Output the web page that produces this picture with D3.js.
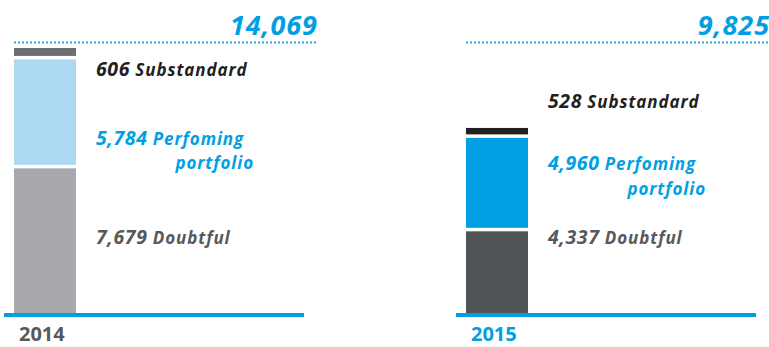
<!DOCTYPE html>
<html>
<head>
<meta charset="utf-8">
<script src="https://cdn.jsdelivr.net/npm/d3@7"></script>
<style>
  html, body { margin: 0; padding: 0; background: #ffffff; }
  svg { display: block; font-family: "Open Sans", "Noto Sans", sans-serif; }
</style>
</head>
<body>
<svg id="chart" width="769" height="347"></svg>
<script>
// Loan portfolio breakdown by year
const years = ["2014", "2015"];
const totals = [14069, 9825];
const doubtful = [7679, 4337];
const performing = [5784, 4960];
const substandard = [606, 528];
const seriesKeys = ["doubtful", "performing", "substandard"];
const seriesNames = ["Doubtful", "Perfoming portfolio", "Substandard"];

// Per-year colour sets (bars and label text)
const barColors = {
  "2014": { doubtful: "#a7a9ac", performing: "#acd8f2", substandard: "#6d6e71" },
  "2015": { doubtful: "#515457", performing: "#009fe3", substandard: "#231f20" }
};
const textColors = { doubtful: "#58595b", performing: "#009fe3", substandard: "#231f20" };
const yearColors = { "2014": "#58595b", "2015": "#009fe3" };
const blue = "#009fe3";

// Label baselines for each panel
const labelY = {
  "2014": { substandard: 75.5, performing: 144.5, portfolio: 168.5, doubtful: 244 },
  "2015": { substandard: 108, performing: 170, portfolio: 195, doubtful: 244 }
};

const rows = years.map((yr, i) => ({
  year: yr, total: totals[i],
  doubtful: doubtful[i], performing: performing[i], substandard: substandard[i]
}));

const svg = d3.select("#chart");
const baseY = 313;
const barW = 62;
const gap = 3.5;

const x = d3.scaleBand().domain(years).range([14, 14 + 452 * 2]).paddingInner(0).paddingOuter(0);
const y = d3.scaleLinear().domain([0, d3.max(totals)]).range([baseY, 48]);

const stacked = d3.stack().keys(seriesKeys)(rows);

// Stacked segments, separated by thin white gaps
stacked.forEach((layer, li) => {
  svg.append("g").selectAll("rect")
    .data(layer)
    .join("rect")
    .attr("x", d => x(d.data.year))
    .attr("y", d => y(d[1]))
    .attr("width", barW)
    .attr("height", d => Math.max(0, y(d[0]) - y(d[1]) - (li > 0 ? gap : 0)))
    .attr("fill", d => barColors[d.data.year][layer.key]);
});

const numFmt = d3.format(",");

rows.forEach(r => {
  const x0 = x(r.year);
  const g = svg.append("g");

  // Baseline
  g.append("rect")
    .attr("x", x0 - 10).attr("y", baseY)
    .attr("width", 300).attr("height", 4)
    .attr("fill", blue);

  // Dotted rule under the total
  g.append("line")
    .attr("x1", x0).attr("x2", x0 + 304)
    .attr("y1", 42.5).attr("y2", 42.5)
    .attr("stroke", "#2aa8e0")
    .attr("stroke-width", 2)
    .attr("stroke-dasharray", "2,2");

  // Total
  g.append("text")
    .attr("x", x0 + 304).attr("y", 34.5)
    .attr("text-anchor", "end")
    .attr("font-size", 27).attr("font-weight", 700).attr("font-style", "italic")
    .attr("letter-spacing", 1)
    .attr("fill", blue)
    .text(numFmt(r.total));

  // Year
  g.append("text")
    .attr("x", x0 + 5).attr("y", 341)
    .attr("font-size", 20).attr("font-weight", 700)
    .attr("fill", yearColors[r.year])
    .text(r.year);

  // Segment labels
  const ly = labelY[r.year];
  const addLabel = (key, yy, word) => {
    const t = g.append("text")
      .attr("x", x0 + 82).attr("y", yy)
      .attr("font-weight", 700).attr("font-style", "italic")
      .attr("fill", textColors[key]);
    t.append("tspan").attr("font-size", 19.5).attr("letter-spacing", 0.6).text(numFmt(r[key]));
    t.append("tspan").attr("font-size", 17).attr("letter-spacing", 0.9).text(" " + word);
  };
  addLabel("substandard", ly.substandard, seriesNames[2]);
  addLabel("performing", ly.performing, seriesNames[1].split(" ")[0]);
  g.append("text")
    .attr("x", x0 + 240).attr("y", ly.portfolio)
    .attr("text-anchor", "end")
    .attr("font-size", 17).attr("font-weight", 700).attr("font-style", "italic")
    .attr("letter-spacing", 0.9)
    .attr("fill", textColors.performing)
    .text(seriesNames[1].split(" ")[1]);
  addLabel("doubtful", ly.doubtful, seriesNames[0]);
});
</script>
</body>
</html>
